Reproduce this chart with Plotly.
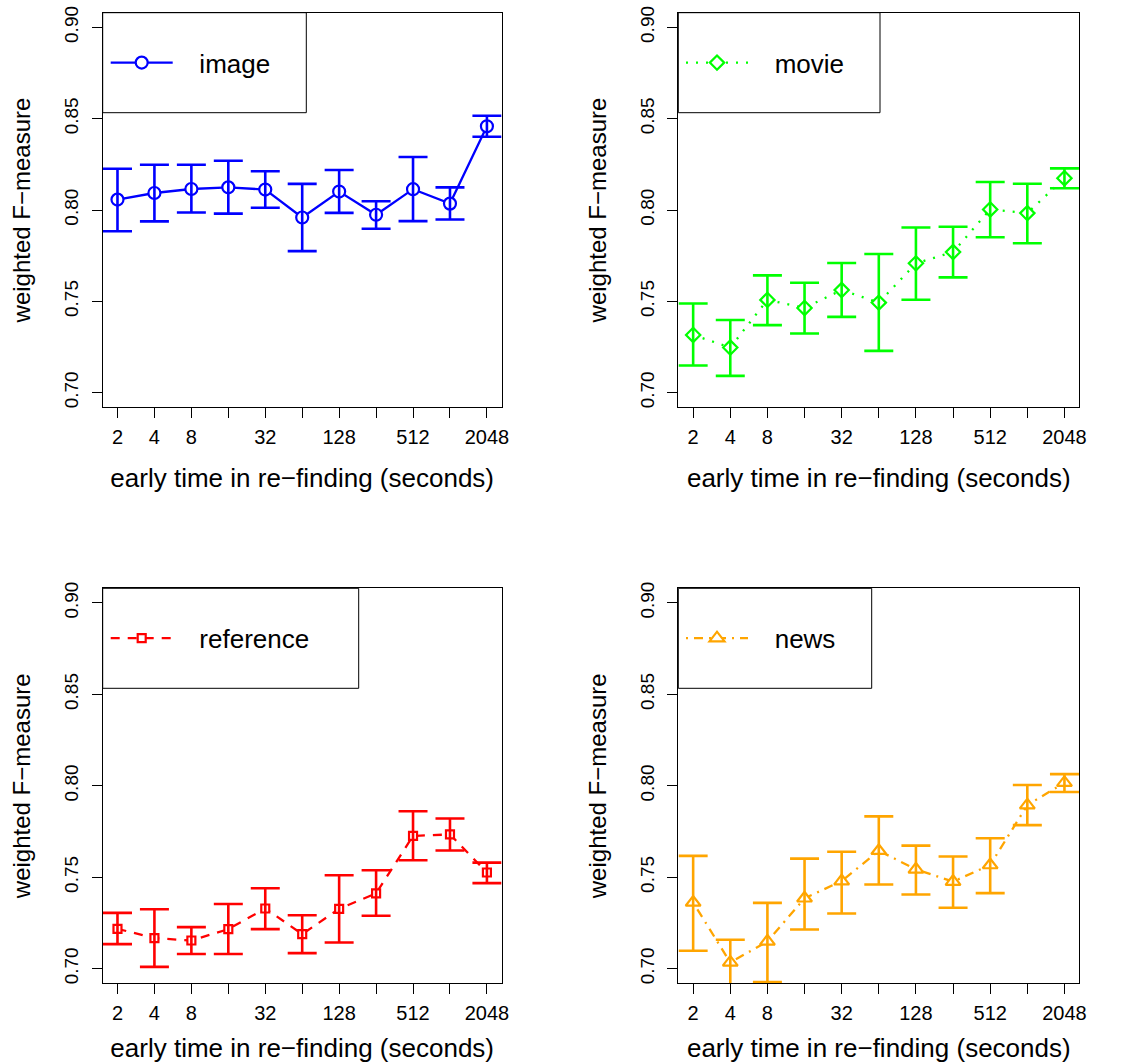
import plotly.graph_objects as go

# ---------------- data ----------------
x_seconds = [2, 4, 8, 16, 32, 64, 128, 256, 512, 1024, 2048]
x_ticktext = ["2", "4", "8", "", "32", "", "128", "", "512", "", "2048"]
y_tickvals = [0.70, 0.75, 0.80, 0.85, 0.90]
y_ticktext = ["0.70", "0.75", "0.80", "0.85", "0.90"]

image_mean  = [0.8057, 0.8093, 0.8115, 0.8124, 0.8112, 0.7959, 0.8101, 0.7974, 0.8114, 0.8035, 0.8458]
image_upper = [0.8226, 0.8248, 0.8248, 0.8270, 0.8212, 0.8143, 0.8219, 0.8048, 0.8290, 0.8124, 0.8516]
image_lower = [0.7884, 0.7938, 0.7986, 0.7980, 0.8012, 0.7775, 0.7984, 0.7897, 0.7939, 0.7948, 0.8401]

movie_mean  = [0.7316, 0.7247, 0.7508, 0.7464, 0.7562, 0.7493, 0.7708, 0.7770, 0.8003, 0.7983, 0.8174]
movie_upper = [0.7488, 0.7398, 0.7642, 0.7602, 0.7710, 0.7759, 0.7904, 0.7908, 0.8153, 0.8144, 0.8228]
movie_lower = [0.7149, 0.7092, 0.7370, 0.7324, 0.7415, 0.7229, 0.7509, 0.7631, 0.7851, 0.7818, 0.8119]

reference_mean  = [0.7218, 0.7167, 0.7154, 0.7216, 0.7329, 0.7189, 0.7327, 0.7412, 0.7726, 0.7734, 0.7526]
reference_upper = [0.7305, 0.7325, 0.7227, 0.7354, 0.7440, 0.7292, 0.7511, 0.7538, 0.7861, 0.7821, 0.7580]
reference_lower = [0.7134, 0.7010, 0.7080, 0.7080, 0.7216, 0.7085, 0.7143, 0.7289, 0.7593, 0.7646, 0.7468]

news_mean  = [0.7362, 0.7034, 0.7149, 0.7385, 0.7479, 0.7645, 0.7543, 0.7476, 0.7567, 0.7894, 0.8017]
news_upper = [0.7617, 0.7158, 0.7360, 0.7602, 0.7639, 0.7833, 0.7673, 0.7613, 0.7713, 0.8004, 0.8064]
news_lower = [0.7098, 0.6910, 0.6927, 0.7214, 0.7302, 0.7460, 0.7406, 0.7333, 0.7413, 0.7785, 0.7966]

W, H = 1128, 1063
FONT = "Liberation Sans, Arial, Helvetica, sans-serif"
NB = "\u00a0"

panels = [
    dict(name="image", mean=image_mean, up=image_upper, lo=image_lower,
         color="#0000FF", dash="solid", symbol="circle", size=12,
         xdom=[102.7, 501.7], ydom=[12.7, 407.3], box_r=306.3, leg_x=110.7),
    dict(name="movie", mean=movie_mean, up=movie_upper, lo=movie_lower,
         color="#00FF00", dash="2px,8px", symbol="diamond", size=11,
         xdom=[678.3, 1079.3], ydom=[12.7, 407.3], box_r=880.0, leg_x=686.0),
    dict(name="reference", mean=reference_mean, up=reference_upper, lo=reference_lower,
         color="#FF0000", dash="9px,8px", symbol="square", size=8,
         xdom=[102.7, 501.7], ydom=[588.3, 983.3], box_r=358.7, leg_x=110.7),
    dict(name="news", mean=news_mean, up=news_upper, lo=news_lower,
         color="#FFA500", dash="2px,6px,9px,6px", symbol="triangle-up", size=13,
         xdom=[678.3, 1079.3], ydom=[588.3, 983.3], box_r=871.7, leg_x=686.0),
]

fig = go.Figure()
layout = dict(
    width=W, height=H, margin=dict(l=0, r=0, t=0, b=0, autoexpand=False),
    paper_bgcolor="white", plot_bgcolor="white",
    font=dict(family=FONT, color="black"),
    shapes=[],
)

for i, p in enumerate(panels, start=1):
    sfx = "" if i == 1 else str(i)
    xa, ya = "x" + sfx, "y" + sfx
    legname = "legend" + sfx
    err_plus = [u - m for u, m in zip(p["up"], p["mean"])]
    err_minus = [m - l for m, l in zip(p["mean"], p["lo"])]

    # line + marker (white filled to hide the line inside marker, like type="b")
    fig.add_trace(go.Scatter(
        x=x_seconds, y=p["mean"], xaxis=xa, yaxis=ya, name=NB * 3 + p["name"],
        mode="lines+markers",
        line=dict(color=p["color"], width=2.3, dash=p["dash"]),
        marker=dict(symbol=p["symbol"], size=p["size"], color="white",
                    line=dict(color=p["color"], width=2.2)),
        legend=legname, showlegend=True, hoverinfo="skip",
    ))
    # error bars on top
    fig.add_trace(go.Scatter(
        x=x_seconds, y=p["mean"], xaxis=xa, yaxis=ya, mode="markers",
        marker=dict(size=1, opacity=0, color=p["color"]),
        error_y=dict(type="data", symmetric=False, array=err_plus, arrayminus=err_minus,
                     color=p["color"], thickness=2.6, width=14.5),
        showlegend=False, hoverinfo="skip",
    ))

    x0, x1 = p["xdom"]
    y0, y1 = p["ydom"]
    layout["xaxis" + sfx] = dict(
        domain=[x0 / W, x1 / W], anchor=ya, type="log", automargin=False,
        range=[0.6 * 0.30103, 11.4 * 0.30103],
        tickvals=x_seconds, ticktext=x_ticktext, ticks="outside", ticklen=10,
        tickwidth=1, tickcolor="black", showline=True, linecolor="black",
        linewidth=1, mirror=True, showgrid=False, zeroline=False,
        tickfont=dict(size=20, family=FONT), ticklabelstandoff=2,
        title=dict(text="early time in re\u2212finding (seconds)",
                   font=dict(size=26, family=FONT), standoff=21),
    )
    layout["yaxis" + sfx] = dict(
        domain=[1 - y1 / H, 1 - y0 / H], anchor=xa, automargin=False,
        range=[0.692, 0.908],
        tickvals=y_tickvals, ticktext=y_ticktext, tickangle=-90,
        ticks="outside", ticklen=10, tickwidth=1, tickcolor="black",
        showline=True, linecolor="black", linewidth=1, mirror=True,
        showgrid=False, zeroline=False,
        tickfont=dict(size=19, family=FONT), ticklabelstandoff=6,
        title=dict(text="weighted F\u2212measure", font=dict(size=24, family=FONT),
                   standoff=23),
    )
    # legend box
    layout["shapes"].append(dict(
        type="rect", xref="paper", yref="paper",
        x0=x0 / W, x1=p["box_r"] / W, y0=1 - (y0 + 100) / H, y1=1 - y0 / H,
        line=dict(color="black", width=1), fillcolor="rgba(0,0,0,0)", layer="above",
    ))
    layout[legname] = dict(
        x=(p["leg_x"] - 5) / W, y=1 - (y0 + 50) / H, xanchor="left", yanchor="middle",
        bgcolor="rgba(0,0,0,0)", borderwidth=0, itemwidth=62,
        font=dict(size=26, family=FONT, color="black"),
    )

fig.update_layout(**layout)
fig.write_html("out.html", config={"displayModeBar": False},
               post_script="document.body.style.margin='0';")
